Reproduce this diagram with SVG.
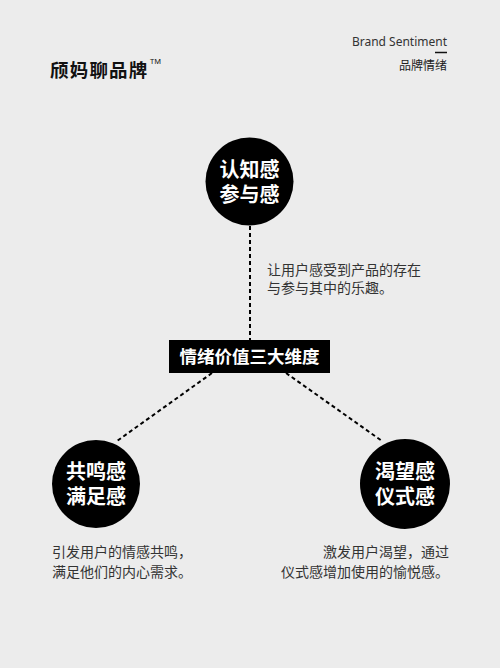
<svg xmlns="http://www.w3.org/2000/svg" width="500" height="668" viewBox="0 0 500 668">
<style>
.bg{fill:#ececec}
.dot{fill:#000}
.lbl{fill:#fff;font-family:"Liberation Sans","Noto Sans CJK SC",sans-serif;font-weight:bold;font-size:20px;text-anchor:middle}
.desc{fill:#333;font-family:"Liberation Sans","Noto Sans CJK SC",sans-serif;font-size:14px}
.conn{stroke:#000;stroke-width:2;stroke-dasharray:4 3;fill:none}
</style>
<rect class="bg" x="0" y="0" width="500" height="668"/>
<g id="header">
<text x="50" y="77" font-family="Noto Sans CJK SC, sans-serif" font-weight="bold" font-size="18.5" letter-spacing="1.2" fill="#111">颀妈聊品牌</text>
<text x="150" y="64" font-family="Noto Sans, sans-serif" font-size="7.5" fill="#111">TM</text>
<text x="447" y="46" text-anchor="end" font-family="Noto Sans, sans-serif" font-size="12" fill="#333">Brand Sentiment</text>
<line x1="435" y1="52.5" x2="447" y2="52.5" stroke="#111" stroke-width="1.5"/>
<text x="447" y="70" text-anchor="end" font-family="Noto Sans CJK SC, sans-serif" font-size="12" fill="#222">品牌情绪</text>
</g>
<g id="connectors">
<line class="conn" x1="250" y1="226" x2="250" y2="340"/>
<line class="conn" x1="212" y1="373" x2="117" y2="441"/>
<line class="conn" x1="286" y1="373" x2="382" y2="441"/>
</g>
<g id="node-top">
<circle class="dot" cx="249.5" cy="181.5" r="44"/>
<text class="lbl"><tspan x="249.5" y="176.5">认知感</tspan><tspan x="249.5" y="201.5">参与感</tspan></text>
<text class="desc"><tspan x="267" y="275">让用户感受到产品的存在</tspan><tspan x="267" y="293">与参与其中的乐趣。</tspan></text>
</g>
<g id="node-center">
<rect x="169" y="340" width="161" height="33" fill="#000"/>
<text x="249.5" y="362.5" text-anchor="middle" fill="#fff" font-family="Noto Sans CJK SC, sans-serif" font-weight="bold" font-size="17.5">情绪价值三大维度</text>
</g>
<g id="node-left">
<circle class="dot" cx="96" cy="484" r="44"/>
<text class="lbl"><tspan x="96" y="479">共鸣感</tspan><tspan x="96" y="504">满足感</tspan></text>
<text class="desc"><tspan x="52" y="557">引发用户的情感共鸣，</tspan><tspan x="52" y="577">满足他们的内心需求。</tspan></text>
</g>
<g id="node-right">
<circle class="dot" cx="405" cy="484" r="45"/>
<text class="lbl"><tspan x="405" y="479">渴望感</tspan><tspan x="405" y="504">仪式感</tspan></text>
<text class="desc" text-anchor="end"><tspan x="449" y="557">激发用户渴望，通过</tspan><tspan x="449" y="577">仪式感增加使用的愉悦感。</tspan></text>
</g>
</svg>
